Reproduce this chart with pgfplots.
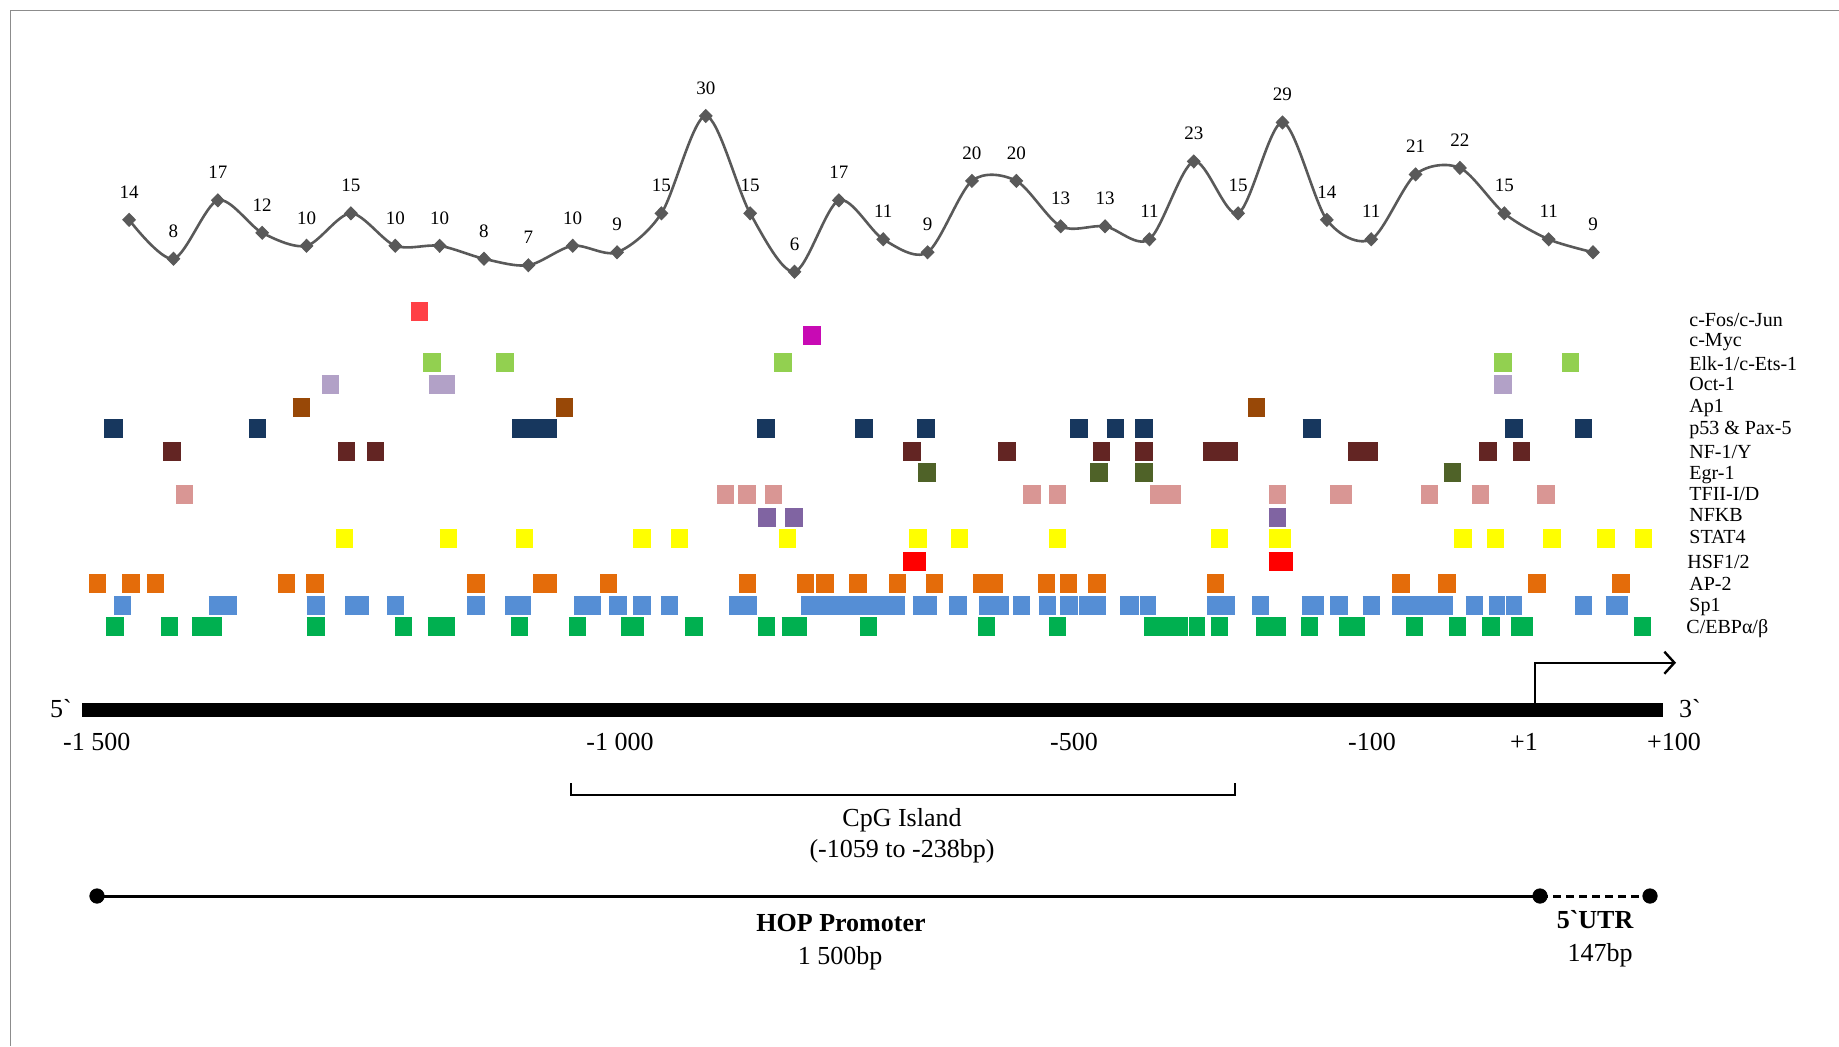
\documentclass[border=0pt]{standalone}
\usepackage{pgfplots}
\pgfplotsset{compat=1.18}
\usetikzlibrary{arrows.meta}
\usepackage{fontspec}
\setmainfont{Liberation Serif}[Ligatures=TeXOff]
\definecolor{cfos}{HTML}{FF4046}
\definecolor{cmyc}{HTML}{C80AB4}
\definecolor{elk}{HTML}{92D050}
\definecolor{oct}{HTML}{B2A1C7}
\definecolor{apone}{HTML}{984807}
\definecolor{pfs}{HTML}{17375E}
\definecolor{nfy}{HTML}{632523}
\definecolor{egr}{HTML}{4F6228}
\definecolor{tfii}{HTML}{D99694}
\definecolor{nfkb}{HTML}{8064A2}
\definecolor{stat}{HTML}{FFFF00}
\definecolor{hsf}{HTML}{FF0000}
\definecolor{aptwo}{HTML}{E46C0A}
\definecolor{spone}{HTML}{558ED5}
\definecolor{cebp}{HTML}{00B050}
\definecolor{curvegray}{HTML}{595959}
\definecolor{framegray}{HTML}{8C8C8C}
\begin{document}
\begin{tikzpicture}
\begin{axis}[at={(0,0)},anchor=south west,scale only axis,width=919.5pt,height=523pt,
  xmin=0,xmax=1839,ymin=0,ymax=1046,y dir=reverse,axis lines=none,clip=false,
  unbounded coords=jump]
% frame
\addplot[framegray,line width=0.8pt] coordinates {(10.5,1046)(10.5,10.5)(1839,10.5)};
% rows of binding sites
\addplot[cfos,line width=9.5pt] coordinates {(410.7,311)(428.1,311)};
\addplot[cmyc,line width=9.5pt] coordinates {(803.3,335.3)(820.7,335.3)};
\addplot[elk,line width=9.5pt] coordinates {(423,362)(440.8,362)(nan,nan)(496.1,362)(513.5,362)(nan,nan)(774.4,362)(791.8,362)(nan,nan)(1494.2,362)(1512.1,362)(nan,nan)(1561.9,362)(1579,362)};
\addplot[oct,line width=9.5pt] coordinates {(321.8,384.5)(338.8,384.5)(nan,nan)(428.5,384.5)(454.6,384.5)(nan,nan)(1494.2,384.5)(1512.1,384.5)};
\addplot[apone,line width=9.5pt] coordinates {(292.5,407)(309.5,407)(nan,nan)(555.9,407)(573.2,407)(nan,nan)(1248.1,407)(1265.2,407)};
\addplot[pfs,line width=9.5pt] coordinates {(104.3,428.2)(122.5,428.2)(nan,nan)(248.6,428.2)(266,428.2)(nan,nan)(512.4,428.2)(557,428.2)(nan,nan)(757.4,428.2)(774.8,428.2)(nan,nan)(854.7,428.2)(872.9,428.2)(nan,nan)(916.8,428.2)(934.6,428.2)(nan,nan)(1070.2,428.2)(1088.4,428.2)(nan,nan)(1106.6,428.2)(1124,428.2)(nan,nan)(1135,428.2)(1153.2,428.2)(nan,nan)(1302.7,428.2)(1320.6,428.2)(nan,nan)(1505.2,428.2)(1523.1,428.2)(nan,nan)(1574.5,428.2)(1592.4,428.2)};
\addplot[nfy,line width=9.5pt] coordinates {(162.8,451.2)(181,451.2)(nan,nan)(338.4,451.2)(355.4,451.2)(nan,nan)(367.2,451.2)(384.2,451.2)(nan,nan)(903.3,451.2)(921.1,451.2)(nan,nan)(998.2,451.2)(1015.6,451.2)(nan,nan)(1092.7,451.2)(1110.1,451.2)(nan,nan)(1135,451.2)(1153.2,451.2)(nan,nan)(1202.7,451.2)(1237.5,451.2)(nan,nan)(1347.9,451.2)(1377.7,451.2)(nan,nan)(1479.1,451.2)(1496.7,451.2)(nan,nan)(1513,451.2)(1530.1,451.2)};
\addplot[egr,line width=9.5pt] coordinates {(918,472.8)(935.8,472.8)(nan,nan)(1090,472.8)(1107.8,472.8)(nan,nan)(1135,472.8)(1153.2,472.8)(nan,nan)(1443.7,472.8)(1460.8,472.8)};
\addplot[tfii,line width=9.5pt] coordinates {(175.9,494.7)(193.3,494.7)(nan,nan)(717.1,494.7)(734.1,494.7)(nan,nan)(738.1,494.7)(755.9,494.7)(nan,nan)(764.6,494.7)(781.6,494.7)(nan,nan)(1023.2,494.7)(1040.6,494.7)(nan,nan)(1048.9,494.7)(1066.3,494.7)(nan,nan)(1150.1,494.7)(1180.9,494.7)(nan,nan)(1268.5,494.7)(1286,494.7)(nan,nan)(1330.4,494.7)(1352,494.7)(nan,nan)(1420.9,494.7)(1438.4,494.7)(nan,nan)(1471.8,494.7)(1489.3,494.7)(nan,nan)(1537.4,494.7)(1555.3,494.7)};
\addplot[nfkb,line width=9.5pt] coordinates {(758.2,517)(775.6,517)(nan,nan)(785.1,517)(802.5,517)(nan,nan)(1268.5,517)(1286,517)};
\addplot[stat,line width=9.5pt] coordinates {(335.6,538.8)(353.4,538.8)(nan,nan)(439.6,538.8)(457,538.8)(nan,nan)(515.9,538.8)(533.3,538.8)(nan,nan)(633.4,538.8)(650.8,538.8)(nan,nan)(670.9,538.8)(687.8,538.8)(nan,nan)(778.8,538.8)(796.2,538.8)(nan,nan)(908.9,538.8)(926.7,538.8)(nan,nan)(951.2,538.8)(968.2,538.8)(nan,nan)(1048.9,538.8)(1066.3,538.8)(nan,nan)(1210.6,538.8)(1228.4,538.8)(nan,nan)(1268.5,538.8)(1291.3,538.8)(nan,nan)(1454.3,538.8)(1472.2,538.8)(nan,nan)(1486.9,538.8)(1504.4,538.8)(nan,nan)(1543.1,538.8)(1560.6,538.8)(nan,nan)(1597.3,538.8)(1614.8,538.8)(nan,nan)(1635.2,538.8)(1652.3,538.8)};
\addplot[hsf,line width=9.5pt] coordinates {(903,561)(925.9,561)(nan,nan)(1268.5,561)(1293.3,561)};
\addplot[aptwo,line width=9.5pt] coordinates {(89.3,583.3)(106.3,583.3)(nan,nan)(122.1,583.3)(139.5,583.3)(nan,nan)(146.6,583.3)(164.4,583.3)(nan,nan)(277.9,583.3)(294.9,583.3)(nan,nan)(306,583.3)(324.1,583.3)(nan,nan)(466.9,583.3)(484.7,583.3)(nan,nan)(533.3,583.3)(557.4,583.3)(nan,nan)(600.1,583.3)(617.1,583.3)(nan,nan)(738.5,583.3)(755.9,583.3)(nan,nan)(797,583.3)(814.4,583.3)(nan,nan)(816.4,583.3)(833.8,583.3)(nan,nan)(849.2,583.3)(866.6,583.3)(nan,nan)(889.1,583.3)(906.1,583.3)(nan,nan)(925.5,583.3)(942.9,583.3)(nan,nan)(972.9,583.3)(1003.4,583.3)(nan,nan)(1037.8,583.3)(1055.2,583.3)(nan,nan)(1059.9,583.3)(1077.3,583.3)(nan,nan)(1088.4,583.3)(1105.8,583.3)(nan,nan)(1207,583.3)(1224.4,583.3)(nan,nan)(1392.3,583.3)(1409.9,583.3)(nan,nan)(1438.4,583.3)(1455.9,583.3)(nan,nan)(1528.4,583.3)(1546,583.3)(nan,nan)(1612.4,583.3)(1630.3,583.3)};
\addplot[spone,line width=9.5pt] coordinates {(114.2,605.2)(131.2,605.2)(nan,nan)(208.7,605.2)(237.1,605.2)(nan,nan)(306.7,605.2)(324.5,605.2)(nan,nan)(345.1,605.2)(368.8,605.2)(nan,nan)(387,605.2)(404.4,605.2)(nan,nan)(466.9,605.2)(484.7,605.2)(nan,nan)(505.2,605.2)(530.5,605.2)(nan,nan)(574,605.2)(600.9,605.2)(nan,nan)(609.2,605.2)(626.6,605.2)(nan,nan)(633.4,605.2)(651.1,605.2)(nan,nan)(660.6,605.2)(678.4,605.2)(nan,nan)(728.6,605.2)(757,605.2)(nan,nan)(801.3,605.2)(904.5,605.2)(nan,nan)(912.8,605.2)(937,605.2)(nan,nan)(949.2,605.2)(967,605.2)(nan,nan)(979.3,605.2)(1009.3,605.2)(nan,nan)(1013.3,605.2)(1030.3,605.2)(nan,nan)(1038.6,605.2)(1056.4,605.2)(nan,nan)(1059.9,605.2)(1078.4,605.2)(nan,nan)(1079.4,605.2)(1105.8,605.2)(nan,nan)(1120.4,605.2)(1138.5,605.2)(nan,nan)(1139.5,605.2)(1156,605.2)(nan,nan)(1206.6,605.2)(1234.6,605.2)(nan,nan)(1251.8,605.2)(1268.9,605.2)(nan,nan)(1301.5,605.2)(1323.9,605.2)(nan,nan)(1330.4,605.2)(1347.5,605.2)(nan,nan)(1362.6,605.2)(1380.1,605.2)(nan,nan)(1392.3,605.2)(1453.1,605.2)(nan,nan)(1465.7,605.2)(1482.8,605.2)(nan,nan)(1488.5,605.2)(1504.5,605.2)(nan,nan)(1505.5,605.2)(1521.9,605.2)(nan,nan)(1574.9,605.2)(1592,605.2)(nan,nan)(1605.5,605.2)(1627.5,605.2)};
\addplot[cebp,line width=9.5pt] coordinates {(105.9,626.2)(123.7,626.2)(nan,nan)(161.2,626.2)(178.2,626.2)(nan,nan)(192.1,626.2)(222.1,626.2)(nan,nan)(306.7,626.2)(324.5,626.2)(nan,nan)(394.5,626.2)(411.5,626.2)(nan,nan)(427.7,626.2)(454.6,626.2)(nan,nan)(510.8,626.2)(527.8,626.2)(nan,nan)(568.9,626.2)(586.3,626.2)(nan,nan)(621.1,626.2)(644,626.2)(nan,nan)(684.7,626.2)(702.5,626.2)(nan,nan)(757.8,626.2)(775.2,626.2)(nan,nan)(781.6,626.2)(807.3,626.2)(nan,nan)(859.8,626.2)(877.2,626.2)(nan,nan)(978.1,626.2)(995.1,626.2)(nan,nan)(1048.9,626.2)(1066.3,626.2)(nan,nan)(1144.1,626.2)(1187.8,626.2)(nan,nan)(1188.8,626.2)(1205.4,626.2)(nan,nan)(1210.6,626.2)(1228,626.2)(nan,nan)(1255.8,626.2)(1286,626.2)(nan,nan)(1301.1,626.2)(1318.2,626.2)(nan,nan)(1338.5,626.2)(1365,626.2)(nan,nan)(1405.8,626.2)(1423.3,626.2)(nan,nan)(1449,626.2)(1465.7,626.2)(nan,nan)(1482.4,626.2)(1499.5,626.2)(nan,nan)(1510.5,626.2)(1533.3,626.2)(nan,nan)(1633.6,626.2)(1650.7,626.2)};
% legend labels
\begin{scope}[every node/.style={anchor=base west,inner sep=0pt,font=\fontsize{10}{12}\selectfont}]
\node at (axis cs:1689,326) {c-Fos/c-Jun};
\node at (axis cs:1689,346.7) {c-Myc};
\node at (axis cs:1689,370) {Elk-1/c-Ets-1};
\node at (axis cs:1689,390.7) {Oct-1};
\node at (axis cs:1689,412) {Ap1};
\node at (axis cs:1689,434) {p53 \& Pax-5};
\node at (axis cs:1689,458.3) {NF-1/Y};
\node at (axis cs:1689,479.3) {Egr-1};
\node at (axis cs:1689,500) {TFII-I/D};
\node at (axis cs:1689,521.7) {NFKB};
\node at (axis cs:1689,543.3) {STAT4};
\node at (axis cs:1687,568.3) {HSF1/2};
\node at (axis cs:1689,590) {AP-2};
\node at (axis cs:1689,611.7) {Sp1};
\node at (axis cs:1686,633.3) {C/EBPα/β};
\end{scope}
% DNA bar and TSS arrow
\addplot[black,line width=7pt] coordinates {(82,710)(1663,710)};
\addplot[black,line width=1.2pt,-{Straight Barb[width=11pt,length=5pt,line width=1.2pt]}] coordinates {(1535,703)(1535,662.7)(1676,662.7)};
\begin{scope}[every node/.style={anchor=base,inner sep=0pt,font=\fontsize{13}{15}\selectfont}]
\node at (axis cs:61,717) {5`};
\node at (axis cs:1690,717) {3`};
\node at (axis cs:96.8,750) {-1 500};
\node at (axis cs:620,750) {-1 000};
\node at (axis cs:1074,750) {-500};
\node at (axis cs:1372,750) {-100};
\node at (axis cs:1524,750) {+1};
\node at (axis cs:1674,750) {+100};
\node at (axis cs:902,826.7) {CpG Island};
\node at (axis cs:902,857.3) {(-1059 to -238bp)};
\node[font=\fontsize{13}{15}\selectfont\bfseries] at (axis cs:841,931.7) {HOP Promoter};
\node at (axis cs:840,964) {1 500bp};
\node[font=\fontsize{13}{15}\selectfont\bfseries] at (axis cs:1595,928.3) {5`UTR};
\node at (axis cs:1600,961.5) {147bp};
\end{scope}
% CpG bracket
\addplot[black,line width=0.6pt] coordinates {(571,783)(571,795)(1235,795)(1235,783)};
% promoter and UTR
\addplot[black,line width=1.5pt] coordinates {(97,896)(1540,896)};
\addplot[black,line width=1.5pt,dash pattern=on 4pt off 2.5pt] coordinates {(1540,896)(1650,896)};
\addplot[black,only marks,mark=*,mark size=3.6pt] coordinates {(97,896)(1540,896)(1650,896)};
\end{axis}
% CpG count curve
\begin{axis}[at={(0,0)},anchor=south west,scale only axis,width=919.5pt,height=523pt,
  xmin=-1.9103,xmax=39.546,ymin=-113.3,ymax=47.874,axis lines=none,clip=false,
  /pgf/number format/assume math mode=true,
  every node near coord/.append style={font=\fontsize{9.5}{11}\selectfont,text=black,anchor=south,inner sep=0pt,yshift=10.5pt}]
\addplot[curvegray,line width=1.3pt,smooth,mark=diamond*,mark size=3.2pt,
  mark options={fill=curvegray,draw=curvegray,xscale=1.3,line width=0.5pt},
  nodes near coords,point meta=y] coordinates {
(1,14)(2,8)(3,17)(4,12)(5,10)(6,15)(7,10)(8,10)(9,8)(10,7)(11,10)(12,9)(13,15)(14,30)(15,15)(16,6)(17,17)
(18,11)(19,9)(20,20)(21,20)(22,13)(23,13)(24,11)(25,23)(26,15)(27,29)(28,14)(29,11)(30,21)(31,22)(32,15)(33,11)(34,9)};
\end{axis}
\pgfresetboundingbox
\path (0,0) rectangle (919.5pt,523pt);
\end{tikzpicture}
\end{document}
